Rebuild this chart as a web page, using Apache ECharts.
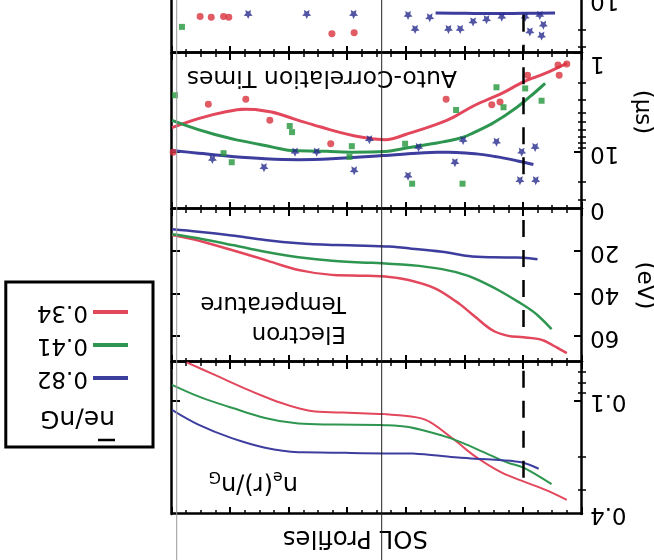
<!DOCTYPE html>
<html><head><meta charset="utf-8">
<script src="https://cdn.jsdelivr.net/npm/echarts@6/dist/echarts.min.js"></script>
<style>html,body{margin:0;padding:0;background:#fff;overflow:hidden}#c{width:654px;height:560px;transform:rotate(180deg);}</style>
</head><body><div id="c"></div><script>
// ---------- DATA (x = radial position, arbitrary units 0..7) ----------
const seriesNames = ['0.34', '0.41', '0.82'];
const legendOrder = ['0.82', '0.41', '0.34'];
const xMajorTicks = [0, 1, 2, 3, 4, 5, 6, 7];

// Panel 1: n_e(r)/n_G (log)
const densRange = [0.0615, 0.4];
const densLabels = [0.1, 0.4];
const densMajor = [0.1];
const densMinor = [0.07, 0.08, 0.09, 0.2, 0.3];
const densRed = [[0.26,0.336],[0.58,0.301],[0.97,0.270],[1.37,0.240],[1.83,0.196],[2.22,0.157],[2.68,0.125],[3.19,0.118],[3.36,0.117],[3.99,0.115],[4.56,0.113],[5.13,0.102],[5.70,0.0867],[6.27,0.0721],[6.75,0.0618]];
const densGreen = [[0.52,0.277],[1.0,0.226],[1.26,0.213],[1.66,0.188],[2.05,0.166],[2.39,0.152],[2.96,0.137],[3.36,0.134],[4.27,0.133],[4.84,0.131],[5.41,0.1225],[5.98,0.108],[6.55,0.094],[7.0,0.0815]];
const densBlue = [[0.74,0.229],[1.0,0.213],[1.37,0.206],[1.83,0.2025],[2.39,0.196],[2.96,0.190],[3.36,0.190],[4.27,0.188],[4.84,0.187],[5.41,0.177],[5.98,0.157],[6.55,0.133],[7.0,0.111]];
const densDash = [0.0686, 0.264];

// Panel 2: electron temperature (eV)
const tempRange = [0, 72];
const tempLabels = [0, 20, 40, 60];
const tempMajor = [20, 40, 60];
const tempRed = [[0.26,67.8],[0.46,64.7],[0.69,61.6],[1.0,60.3],[1.26,59.7],[1.54,56.9],[1.83,50.6],[2.11,44.3],[2.51,37.3],[2.96,33.4],[3.36,31.8],[4.27,31.0],[4.84,28.7],[5.41,24.0],[5.98,19.3],[6.55,14.9],[7.0,12.2]];
const tempGreen = [[0.52,56.5],[0.80,49.0],[1.14,42.8],[1.54,36.5],[1.94,31.5],[2.39,28.3],[2.96,26.3],[3.36,25.7],[4.27,24.4],[4.84,22.7],[5.41,20.1],[5.98,16.9],[6.55,13.8],[7.0,11.9]];
const tempBlue = [[0.76,23.6],[1.0,22.9],[1.54,22.7],[1.94,22.1],[2.39,20.1],[2.96,18.5],[3.36,17.6],[4.27,16.9],[4.84,16.1],[5.41,14.6],[5.98,12.5],[6.55,10.7],[7.0,9.5]];
const tempDash = [5.2, 55.5];

// Panel 3: auto-correlation times (us, log)
const acRange = [1, 37];
const acLabels = [1, 10];
const acMajor = [1, 10];
const acMinor = [2, 3, 4, 5, 6, 7, 8, 9, 20, 30];
const acRed = [[0.26,1.27],[0.63,1.60],[1.0,1.95],[1.37,2.55],[1.83,3.35],[2.31,4.75],[2.97,6.47],[3.36,7.44],[3.70,7.10],[4.05,6.47],[4.50,5.46],[4.84,4.75],[5.30,3.92],[5.75,3.68],[6.10,3.92],[6.55,4.57],[7.0,5.63]];
const acGreen = [[0.63,2.02],[0.86,2.66],[1.14,3.62],[1.49,4.94],[1.83,6.24],[2.05,7.10],[2.40,7.87],[2.97,8.97],[3.36,9.8],[3.93,9.93],[4.50,9.70],[4.96,9.55],[5.41,8.50],[5.98,7.27],[6.55,5.90],[7.0,4.75]];
const acBlue = [[0.83,13.2],[1.14,12.0],[1.49,10.97],[1.83,10.31],[2.40,9.93],[2.97,10.31],[3.36,10.72],[4.27,11.58],[4.84,11.85],[5.41,11.58],[5.98,10.97],[6.55,10.16],[7.0,9.55]];
const acRedPts = [[6.38,3.27],[5.74,2.92],[5.33,4.75],[4.29,8.17],[2.32,2.92],[1.54,3.31],[1.40,3.10],[0.93,1.67],[0.41,1.32],[0.39,1.67],[0.26,1.29],[6.98,9.93]];
const acGreenPts = [[6.95,2.66],[6.12,10.16],[5.98,12.53],[4.99,5.42],[4.95,6.24],[3.93,8.64],[3.97,11.05],[3.02,8.17],[2.90,20.6],[2.15,3.74],[2.04,20.6],[1.46,2.21],[1.34,3.51],[0.97,2.27],[0.69,3.02]];
const acBluePts = [[6.31,11.77],[5.43,14.24],[3.89,15.3],[3.63,7.44],[2.97,17.3],[2.79,8.90],[2.17,12.7],[2.03,7.56],[1.46,7.87],[1.03,9.93],[1.06,19.2],[0.80,8.90],[0.79,19.2],[4.90,9.93],[4.53,9.93]];
const acDash = [1.39, 20.7];

// Panel 4 (cut off at the page edge, log)
const p4Range = [1, 34];
const p4Labels = [10];
const p4Major = [10];
const p4Minor = [2, 3, 4, 5, 6, 7, 8, 9, 20, 30];
const p4BlueLine = [[0.46,13.6],[1.0,13.7],[1.5,13.8],[2.0,13.7],[2.5,13.6]];
const p4RedPts = [[6.52,14.7],[6.33,15.0],[6.12,14.7],[6.03,15.0],[4.27,21.9],[3.89,21.4]];
const p4GreenPts = [[6.83,18.7]];
const p4BluePts = [[5.70,14.1],[4.70,14.1],[3.90,14.1],[2.97,14.4],[2.60,15.2],[2.85,19.8],[2.28,19.8],[2.08,19.8],[1.86,16.7],[1.63,15.9],[1.37,15.0],[0.97,15.0],[0.72,14.4],[0.66,18.0],[0.89,21.0],[0.69,23.1]];
const p4Dash = [14.2, 32.4];

const separatrixX = 1;      // dashed vertical marker
const foldLineX = 3.42;     // thin line crossing the page
const edgeLineX = 6.92;     // faint grey line

// ---------- STYLE ----------
const F = 'DejaVu Sans';
const RED = '#e2475c', GREEN = '#2e9650', BLUE = '#3d3d9e';
const RED_P = '#d8323c', GREEN_P = '#23963a', BLUE_P = '#262a8c';
const STAR = 'path://M0,-10L2.9,-4L9.5,-3.1L4.8,1.5L5.9,8.1L0,5L-5.9,8.1L-4.8,1.5L-9.5,-3.1L-2.9,-4Z';

const grids = [
  {left: 72, top: 46, width: 410, height: 152, outerBoundsMode: 'none'},
  {left: 72, top: 198, width: 410, height: 153, outerBoundsMode: 'none'},
  {left: 72, top: 351, width: 410, height: 156, outerBoundsMode: 'none'},
  {left: 72, top: 507, width: 410, height: 154, outerBoundsMode: 'none'}
];

function xAxes(gi) {
  return ['bottom', 'top'].map(pos => ({
    type: 'value', gridIndex: gi, position: pos, min: 0, max: 7, interval: 1,
    axisLine: {show: true, onZero: false, lineStyle: {color: '#000', width: 2.5}},
    axisTick: {show: true, inside: true, length: 7, lineStyle: {color: '#000', width: 2}},
    minorTick: {show: true, splitNumber: 4, length: 4, lineStyle: {color: '#000', width: 1.5}},
    axisLabel: {show: false}, splitLine: {show: false}, minorSplitLine: {show: false}
  }));
}

function yAxes(gi, type, range, major, minor, labels, fmt, extra) {
  const base = {type: type, gridIndex: gi, min: range[0], max: range[1],
    splitLine: {show: false}, minorTick: {show: false}, minorSplitLine: {show: false}};
  if (type === 'log') base.logBase = 10;
  const line = {show: true, onZero: false, lineStyle: {color: '#000', width: 2.5}};
  const majT = {show: true, inside: true, length: 8, customValues: major, lineStyle: {color: '#000', width: 2}};
  const minT = {show: true, inside: true, length: 4, customValues: minor, lineStyle: {color: '#000', width: 1.5}};
  const list = [
    Object.assign({}, base, {position: 'left', axisLine: line, axisTick: majT,
      axisLabel: {show: true, customValues: labels, formatter: fmt, margin: 8,
        fontFamily: F, fontSize: 23, color: '#000',
        rich: {lo: {fontFamily: F, fontSize: 23, color: '#000', padding: [0, 0, 20, 0]}}}}, extra || {}),
    Object.assign({}, base, {position: 'left', axisLine: {show: false}, axisTick: minT, axisLabel: {show: false}}),
    Object.assign({}, base, {position: 'right', axisLine: line, axisTick: majT, axisLabel: {show: false}}),
    Object.assign({}, base, {position: 'right', axisLine: {show: false}, axisTick: minT, axisLabel: {show: false}})
  ];
  if (!minor.length) { list[1].axisTick = {show: false}; list[3].axisTick = {show: false}; }
  return list;
}

const nameStyle = {fontFamily: F, fontSize: 23, color: '#000'};
const yAxisList = [].concat(
  yAxes(0, 'log', densRange, densMajor, densMinor, densLabels, v => String(+v.toFixed(2))),
  yAxes(1, 'value', tempRange, tempMajor, [], tempLabels, v => String(v),
    {name: '(eV)', nameLocation: 'middle', nameRotate: 90, nameGap: 50, nameTextStyle: nameStyle}),
  yAxes(2, 'log', acRange, acMajor, acMinor, acLabels, v => (Math.abs(v - 1) < 1e-6 ? '{lo|1}' : String(Math.round(v))),
    {name: '(\u03bcs)', nameLocation: 'middle', nameRotate: 90, nameGap: 40,
     nameTextStyle: Object.assign({}, nameStyle, {padding: [0, 38, 0, 0]})}),
  yAxes(3, 'log', p4Range, p4Major, p4Minor, p4Labels, v => String(Math.round(v)))
);
const xAxisList = [].concat(xAxes(0), xAxes(1), xAxes(2), xAxes(3));

function dashMark(range) {
  return {silent: true, symbol: ['none', 'none'], label: {show: false}, animation: false,
    lineStyle: {color: '#000', width: 2.5, type: [17, 13]},
    data: [[{coord: [separatrixX, range[0]]}, {coord: [separatrixX, range[1]]}]]};
}
function line(name, gi, data, color, width, mark) {
  const s = {type: 'line', name: name, xAxisIndex: 2 * gi, yAxisIndex: 4 * gi, data: data,
    smooth: 0.35, symbol: 'none', showSymbol: false, lineStyle: {color: color, width: width},
    itemStyle: {color: color}, z: 3, animation: false};
  if (mark) s.markLine = mark;
  return s;
}
function scatter(name, gi, data, color, symbol, size) {
  return {type: 'scatter', name: name, xAxisIndex: 2 * gi, yAxisIndex: 4 * gi, data: data,
    symbol: symbol, symbolSize: size, itemStyle: {color: color}, z: 4, animation: false};
}

const series = [
  line(seriesNames[0], 0, densRed, RED, 2, dashMark(densDash)),
  line(seriesNames[1], 0, densGreen, GREEN, 2),
  line(seriesNames[2], 0, densBlue, BLUE, 2),
  line(seriesNames[0], 1, tempRed, RED, 2.5, dashMark(tempDash)),
  line(seriesNames[1], 1, tempGreen, GREEN, 2.5),
  line(seriesNames[2], 1, tempBlue, BLUE, 2.5),
  line(seriesNames[0], 2, acRed, RED, 3, dashMark(acDash)),
  line(seriesNames[1], 2, acGreen, GREEN, 3),
  line(seriesNames[2], 2, acBlue, BLUE, 3),
  scatter(seriesNames[0], 2, acRedPts, RED_P, 'circle', 7),
  scatter(seriesNames[1], 2, acGreenPts, GREEN_P, 'rect', 6),
  scatter(seriesNames[2], 2, acBluePts, BLUE_P, STAR, 9),
  line(seriesNames[2], 3, p4BlueLine, BLUE, 3, dashMark(p4Dash)),
  scatter(seriesNames[0], 3, p4RedPts, RED_P, 'circle', 7),
  scatter(seriesNames[1], 3, p4GreenPts, GREEN_P, 'rect', 6),
  scatter(seriesNames[2], 3, p4BluePts, BLUE_P, STAR, 9)
];

const txt = (size) => ({fontFamily: F, fontSize: size, fontWeight: 'normal', color: '#000'});
const option = {
  backgroundColor: '#fff',
  animation: false,
  grid: grids,
  xAxis: xAxisList,
  yAxis: yAxisList,
  series: series,
  legend: {
    data: legendOrder, orient: 'vertical', left: 501, top: 113,
    icon: 'rect', itemWidth: 35, itemHeight: 4, itemGap: 9,
    padding: [57, 31, 18, 25], borderColor: '#000', borderWidth: 3, borderRadius: 0,
    selectedMode: false, textStyle: {fontFamily: F, fontSize: 23, color: '#000', lineHeight: 24}
  },
  title: [
    {text: 'SOL Profiles', left: 226, top: 9, padding: 0, textStyle: Object.assign(txt(24.5), {lineHeight: 28})},
    {text: '{m|n}{s|e}{m|(r)/n}{s|G}', left: 356, top: 62, padding: 0,
     textStyle: {rich: {m: Object.assign(txt(24), {lineHeight: 30}), s: Object.assign(txt(16), {lineHeight: 16, verticalAlign: 'bottom'})}}},
    {text: 'Electron\nTemperature', left: 308, top: 212, padding: 0, textStyle: Object.assign(txt(23), {lineHeight: 30})},
    {text: 'Auto-Correlation Times', left: 197, top: 469, padding: 0, textStyle: Object.assign(txt(23.5), {lineHeight: 28})},
    {text: '{b|}\n{t|ne/nG}', left: 539, top: 118, padding: 0,
     textStyle: {rich: {b: {width: 17, height: 2.5, backgroundColor: '#000', lineHeight: 4},
                        t: Object.assign(txt(25), {lineHeight: 40})}}}
  ]
};

const chart = echarts.init(document.getElementById('c'));
chart.setOption(option);
const px = v => chart.convertToPixel({xAxisIndex: 0}, v);
chart.setOption({graphic: [
  {type: 'line', silent: true, z: 10, shape: {x1: px(foldLineX), y1: 0, x2: px(foldLineX), y2: 560}, style: {stroke: '#222', lineWidth: 1}},
  {type: 'line', silent: true, z: 10, shape: {x1: px(edgeLineX), y1: 0, x2: px(edgeLineX), y2: 560}, style: {stroke: '#9a9a9a', lineWidth: 1}}
]});
</script></body></html>
